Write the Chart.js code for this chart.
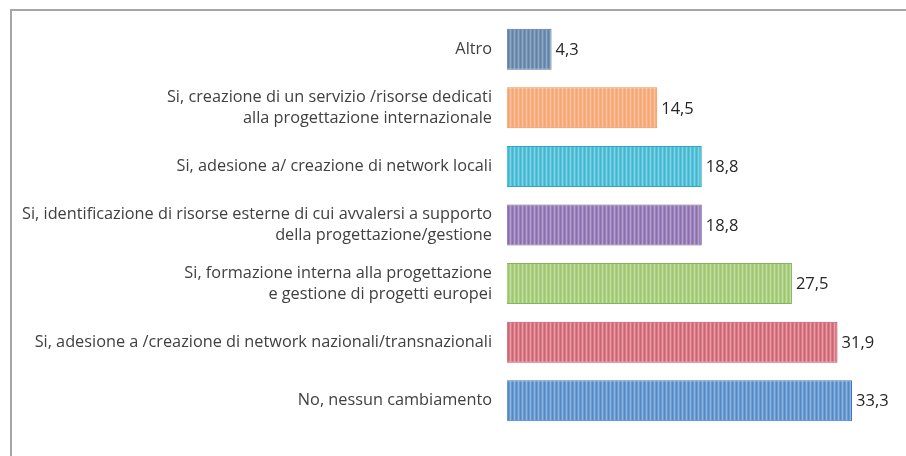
<!DOCTYPE html>
<html>
<head>
<meta charset="utf-8">
<script src="https://cdn.jsdelivr.net/npm/chart.js@4/dist/chart.umd.min.js"></script>
<style>
  html, body { margin: 0; padding: 0; background: #fff; overflow: hidden; }
  #frame { position: absolute; left: 10px; top: 9px; width: 1000px; height: 1000px; border: 2px solid #a6a6a6; box-sizing: border-box; }
  #wrap { position: absolute; left: 0; top: 0; width: 906px; height: 456px; }
</style>
</head>
<body>
<div id="frame"></div>
<div id="wrap"><canvas id="chart" width="906" height="456"></canvas></div>
<script>
// categorie (dall'alto in basso)
const categories = [
  ["Altro"],
  ["Si, creazione di un servizio /risorse dedicati", "alla progettazione internazionale"],
  ["Si, adesione a/ creazione di network locali"],
  ["Si, identificazione di risorse esterne di cui avvalersi a supporto", "della progettazione/gestione"],
  ["Si, formazione interna alla progettazione", "e gestione di progetti europei"],
  ["Si, adesione a /creazione di network nazionali/transnazionali"],
  ["No, nessun cambiamento"]
];
const values = [4.3, 14.5, 18.8, 18.8, 27.5, 31.9, 33.3];

// colori: base, chiaro (righe verticali), bordo
const baseColors  = ["#6282a6", "#f6a470", "#40b8d2", "#8a6fb0", "#9cc76e", "#cf6471", "#528ac8"];
const lightColors = ["#8ea8c6", "#fac39e", "#80d2e4", "#b3a1cc", "#c2dea4", "#e69ea7", "#8fb5de"];
const edgeColors  = ["#50709a", "#ea9158", "#30a8c2", "#76599f", "#86b45a", "#bd5260", "#4078bb"];

function stripes(base, light) {
  const c = document.createElement("canvas");
  c.width = 4; c.height = 4;
  const g = c.getContext("2d");
  g.fillStyle = base; g.fillRect(0, 0, 4, 4);
  g.fillStyle = light; g.fillRect(2, 0, 1, 4);
  g.globalAlpha = 0.4; g.fillRect(1, 0, 1, 4); g.fillRect(3, 0, 1, 4);
  return g.createPattern(c, "repeat");
}
const ctx = document.getElementById("chart").getContext("2d");
const fills = baseColors.map((b, i) => stripes(b, lightColors[i]));

const valueLabels = {
  id: "valueLabels",
  afterDatasetsDraw(chart) {
    const g = chart.ctx;
    const meta = chart.getDatasetMeta(0);
    g.save();
    g.font = "16.5px 'Open Sans'";
    g.fillStyle = "#262626";
    g.textAlign = "left";
    g.textBaseline = "middle";
    meta.data.forEach((bar, i) => {
      g.fillText(values[i].toFixed(1).replace(".", ","), bar.x + 4, bar.y + 1);
    });
    g.restore();
  }
};

new Chart(ctx, {
  type: "bar",
  data: {
    labels: categories,
    datasets: [{
      data: values,
      backgroundColor: fills,
      borderColor: edgeColors,
      borderWidth: 1,
      barPercentage: 0.7,
      categoryPercentage: 1
    }]
  },
  options: {
    indexAxis: "y",
    responsive: false,
    animation: false,
    layout: { padding: { top: 20, bottom: 26, right: 26 } },
    plugins: { legend: { display: false }, tooltip: { enabled: false } },
    scales: {
      x: { display: false, min: 0, max: 36 },
      y: {
        grid: { display: false },
        border: { display: false },
        ticks: { font: { family: "'Open Sans'", size: 16.3, lineHeight: 1.28 }, color: "#404040", padding: 7 },
        afterFit(scale) { scale.width = 507; }
      }
    }
  },
  plugins: [valueLabels]
});
</script>
</body>
</html>
